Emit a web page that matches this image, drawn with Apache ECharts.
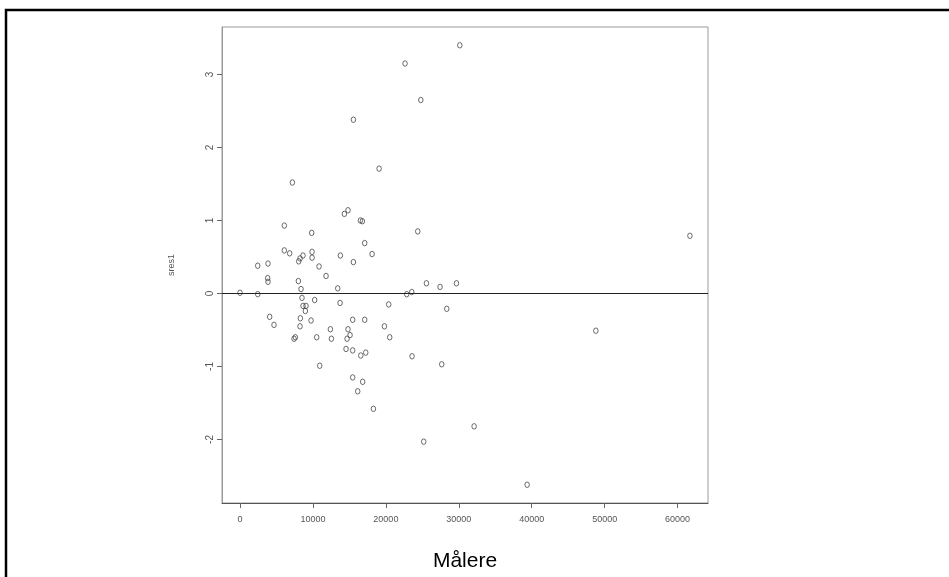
<!DOCTYPE html>
<html>
<head>
<meta charset="utf-8">
<script src="https://cdn.jsdelivr.net/npm/echarts@6/dist/echarts.min.js"></script>
<style>
html,body{margin:0;padding:0;background:#fff;}
#c{width:949px;height:577px;}
</style>
</head>
<body>
<div id="c"></div>
<script>
// Målere (x) vs standardized residuals sres1 (y)
const malere = [30140, 22630, 24790, 15550, 19070, 7180, 14310, 14810, 16510, 16780, 6080, 9830, 24370, 17100,
  6080, 6810, 9880, 9880, 18110, 13760, 8640, 8230, 8050, 15550, 2430, 3840, 10840, 11800, 3800, 3840, 8000,
  13400, 8370, 0, 2430, 22860, 23550, 25560, 27430, 29680, 8500, 10240, 13720, 20390, 8640, 9050, 8960, 28350,
  4070, 8280, 4660, 8230, 9740, 15450, 17100, 19800, 12390, 14810, 15090, 14680, 7410, 7590, 10520, 12530,
  20530, 14540, 15450, 17240, 16560, 23590, 10930, 27660, 15450, 16820, 16140, 18290, 25190, 61690, 48790,
  32100, 39370];
const sres1 = [3.40, 3.15, 2.65, 2.38, 1.71, 1.52, 1.09, 1.14, 1.00, 0.99, 0.93, 0.83, 0.85, 0.69,
  0.59, 0.55, 0.57, 0.49, 0.54, 0.52, 0.52, 0.48, 0.44, 0.43, 0.38, 0.41, 0.37, 0.24, 0.21, 0.16, 0.17,
  0.07, 0.06, 0.01, -0.01, -0.01, 0.02, 0.14, 0.09, 0.14, -0.06, -0.09, -0.13, -0.15, -0.17, -0.17, -0.24, -0.21,
  -0.32, -0.34, -0.43, -0.45, -0.37, -0.36, -0.36, -0.45, -0.49, -0.49, -0.57, -0.62, -0.62, -0.60, -0.60, -0.62,
  -0.60, -0.76, -0.78, -0.81, -0.85, -0.86, -0.99, -0.97, -1.15, -1.21, -1.34, -1.58, -2.03, 0.79, -0.51,
  -1.82, -2.62];
const xTicks = [0, 10000, 20000, 30000, 40000, 50000, 60000];
const yTicks = [-2, -1, 0, 1, 2, 3];
const xTitle = 'Målere';
const yTitle = 'sres1';

const points = malere.map((v, i) => [v, sres1[i]]);

const chart = echarts.init(document.getElementById('c'), null, {renderer: 'canvas'});
chart.setOption({
  backgroundColor: '#ffffff',
  animation: false,
  grid: {left: 222, top: 27, width: 486, height: 479, show: true, borderColor: '#9a9a9a', borderWidth: 1, backgroundColor: 'transparent'},
  xAxis: {
    type: 'value', min: -2468, max: 64168,
    name: xTitle, nameLocation: 'middle', nameGap: 48,
    nameTextStyle: {fontFamily: 'Liberation Sans, Arial, sans-serif', fontSize: 21, color: '#000'},
    axisLine: {show: true, onZero: false, lineStyle: {color: '#555', width: 1}},
    axisTick: {show: true, length: 5, customValues: xTicks, lineStyle: {color: '#666'}},
    axisLabel: {customValues: xTicks, margin: 12, fontSize: 9, color: '#555',
      fontFamily: 'Liberation Sans Narrow, Arial Narrow, Liberation Sans, sans-serif',
      formatter: v => String(Math.round(v))},
    splitLine: {show: false}
  },
  yAxis: {
    type: 'value', min: -2.87, max: 3.65,
    name: yTitle, nameLocation: 'middle', nameGap: 46, nameRotate: 90,
    nameTextStyle: {fontFamily: 'Liberation Sans Narrow, Liberation Sans, sans-serif', fontSize: 9, color: '#555'},
    axisLine: {show: true, onZero: false, lineStyle: {color: '#9a9a9a', width: 1}},
    axisTick: {show: true, length: 5, customValues: yTicks, lineStyle: {color: '#666'}},
    axisLabel: {customValues: yTicks, rotate: 90, margin: 7, fontSize: 10, color: '#555',
      fontFamily: 'Liberation Sans Narrow, Liberation Sans, sans-serif',
      formatter: v => String(Math.round(v))},
    splitLine: {show: false}
  },
  graphic: [{
    type: 'rect', silent: true,
    shape: {x: 6, y: 10, width: 1000, height: 1000},
    style: {fill: 'none', stroke: '#000', lineWidth: 2.5}
  }],
  series: [{
    type: 'scatter',
    data: points,
    symbol: 'circle',
    symbolSize: [4.5, 5.5],
    itemStyle: {color: 'rgba(0,0,0,0)', borderColor: '#333', borderWidth: 0.9},
    markLine: {
      silent: true, symbol: 'none', label: {show: false},
      lineStyle: {color: '#222', width: 1, type: 'solid'},
      data: [{yAxis: 0}]
    }
  }]
});
</script>
</body>
</html>
